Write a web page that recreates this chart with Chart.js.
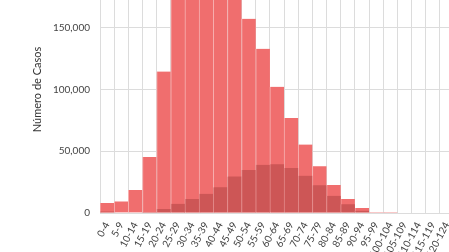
<!DOCTYPE html>
<html lang="es">
<head>
<meta charset="UTF-8">
<script src="https://cdn.jsdelivr.net/npm/chart.js"></script>
<style>
  html, body { margin: 0; padding: 0; width: 449px; height: 252px; overflow: hidden; background: #fff; }
  #grafico { position: absolute; left: 0; top: -34px; }
</style>
</head>
<body>
<canvas id="grafico" width="454" height="310"></canvas>
<script>
// grupos de edad
const gruposEdad = ['0-4', '5-9', '10-14', '15-19', '20-24', '25-29', '30-34', '35-39', '40-44', '45-49',
  '50-54', '55-59', '60-64', '65-69', '70-74', '75-79', '80-84', '85-89', '90-94', '95-99',
  '100-104', '105-109', '110-114', '115-119', '120-124'];

// casos totales (barra clara)
const casosTotales = [8100, 9400, 18600, 45400, 114600, 182000, 198000, 196000, 192000, 184000,
  157300, 133000, 102200, 77000, 55400, 37800, 22700, 11400, 4100, 800,
  100, 0, 0, 0, 0];

// subconjunto (barra oscura)
const casosSubgrupo = [1300, 500, 400, 800, 3200, 7400, 11400, 15500, 20900, 29600,
  34900, 39000, 39400, 36500, 30200, 22400, 14000, 7000, 1900, 500,
  0, 0, 0, 0, 0];

const marcasY = [0, 50000, 100000, 150000, 200000];

const ctx = document.getElementById('grafico').getContext('2d');
new Chart(ctx, {
  type: 'bar',
  data: {
    labels: gruposEdad,
    datasets: [
      {
        label: 'Subgrupo',
        data: casosSubgrupo,
        backgroundColor: '#cd5656',
        borderColor: '#e28989',
        borderWidth: { left: 1, right: 0, top: 0, bottom: 0 },
        order: 0
      },
      {
        label: 'Casos',
        data: casosTotales,
        backgroundColor: '#f06e6e',
        borderColor: '#f7b0b0',
        borderWidth: { left: 1, right: 0, top: 0, bottom: 0 },
        order: 1
      }
    ]
  },
  options: {
    responsive: false,
    animation: false,
    layout: { padding: 0 },
    datasets: { bar: { grouped: false, barPercentage: 1, categoryPercentage: 1 } },
    plugins: { legend: { display: false }, tooltip: { enabled: false } },
    scales: {
      x: {
        grid: { color: '#dcdcdc', drawTicks: false },
        border: { color: '#dcdcdc' },
        ticks: {
          autoSkip: false, minRotation: 62, maxRotation: 62, padding: 7,
          color: '#444', font: { family: 'Lato', size: 10 }
        },
        afterFit(s) { s.height = 63; s.paddingLeft = 0; s.paddingRight = 0; }
      },
      y: {
        min: 0, max: 200000,
        afterBuildTicks(s) { s.ticks = marcasY.map(v => ({ value: v })); },
        grid: { color: '#dcdcdc', drawTicks: false },
        border: { color: '#dcdcdc' },
        ticks: {
          padding: 10, color: '#444', font: { family: 'Lato', size: 10 },
          callback: v => v.toLocaleString('en-US')
        },
        title: {
          display: true, text: 'Número de Casos', color: '#333',
          font: { family: 'Lato', size: 11 }, padding: { top: 31, bottom: 0 }
        },
        afterFit(s) { s.width = 100; s.paddingTop = 0; s.paddingBottom = 0; }
      }
    }
  }
});
</script>
</body>
</html>
